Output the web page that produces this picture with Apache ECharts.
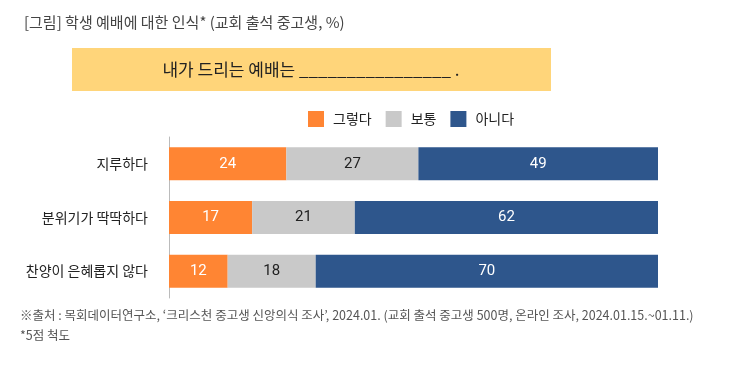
<!DOCTYPE html>
<html><head><meta charset="utf-8">
<script src="https://cdn.jsdelivr.net/npm/echarts@6/dist/echarts.min.js"></script>
<style>html,body{margin:0;padding:0;background:#fff}#c{width:730px;height:367px}</style>
</head><body><div id="c"></div>
<script>
const categories = ['지루하다', '분위기가 딱딱하다', '찬양이 은혜롭지 않다'];
const seriesNames = ['그렇다', '보통', '아니다'];
const yesValues = [24, 17, 12];
const neutralValues = [27, 21, 18];
const noValues = [49, 62, 70];

const KR = '"Noto Sans CJK KR",sans-serif';
const NUM = '"Liberation Sans Narrow","Roboto","Noto Sans CJK KR",sans-serif';
const colors = ['#FF8533', '#C9C9C9', '#2E568C'];
const labelColors = ['#fff', '#222', '#fff'];
const dataSets = [yesValues, neutralValues, noValues];

const chart = echarts.init(document.getElementById('c'));
chart.setOption({
  animation: false,
  textStyle: {fontFamily: KR},
  title: {
    text: '[그림] 학생 예배에 대한 인식* (교회 출석 중고생, %)',
    left: 19, top: 10,
    textStyle: {fontSize: 15, fontWeight: 'normal', color: '#444', fontFamily: KR}
  },
  graphic: [
    {type: 'rect', shape: {x: 72, y: 48, width: 479, height: 43}, style: {fill: '#FFD57A'}},
    {type: 'text', x: 311, y: 70, style: {text: '내가 드리는 예배는 ________________ .', fill: '#222', font: '17px "Noto Sans CJK KR",sans-serif', textAlign: 'center', textVerticalAlign: 'middle'}},
    {type: 'text', x: 20, y: 315, style: {text: '※출처 : 목회데이터연구소, ‘크리스천 중고생 신앙의식 조사’, 2024.01. (교회 출석 중고생 500명, 온라인 조사, 2024.01.15.~01.11.)', fill: '#555', font: '12.5px "Noto Sans CJK KR",sans-serif', textVerticalAlign: 'middle'}},
    {type: 'text', x: 20, y: 335, style: {text: '*5점 척도', fill: '#555', font: '12.5px "Noto Sans CJK KR",sans-serif', textVerticalAlign: 'middle'}}
  ],
  legend: {
    data: seriesNames,
    left: 303, top: 106,
    itemWidth: 16, itemHeight: 16, itemGap: 14,
    icon: 'rect',
    textStyle: {fontSize: 14, color: '#222', fontFamily: KR, padding: [0, 0, 0, 4]}
  },
  grid: {left: 169, right: 72, top: 137, bottom: 69, containLabel: false},
  xAxis: {type: 'value', min: 0, max: 100, show: false},
  yAxis: {
    type: 'category', data: categories, inverse: true,
    axisLine: {show: true, lineStyle: {color: '#bbb'}},
    axisTick: {show: false},
    axisLabel: {fontSize: 14, color: '#222', margin: 21, fontFamily: KR}
  },
  series: seriesNames.map((n, i) => ({
    name: n, type: 'bar', stack: 'total', barWidth: 33,
    data: dataSets[i],
    itemStyle: {color: colors[i]},
    label: {show: true, position: 'inside', color: labelColors[i], fontSize: 15, fontFamily: NUM}
  }))
});
</script></body></html>
